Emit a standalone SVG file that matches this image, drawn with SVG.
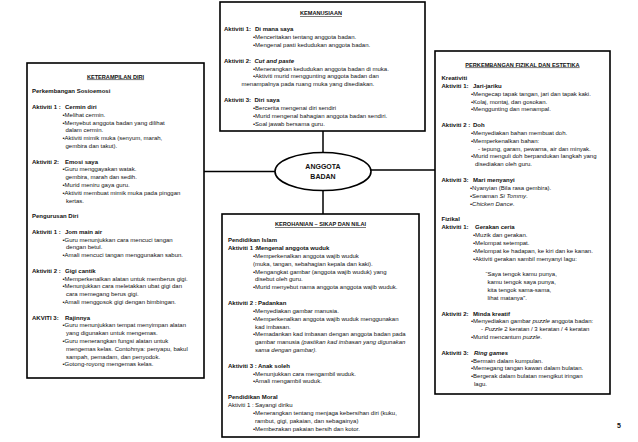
<svg xmlns="http://www.w3.org/2000/svg" width="638" height="442" viewBox="0 0 638 442">
<style>
text{font-family:"Liberation Sans",Arial,sans-serif;font-size:6px;fill:#111}
.b{font-weight:bold}
.i{font-style:italic}
.bi{font-weight:bold;font-style:italic}
.h{font-weight:bold;text-decoration:underline;text-anchor:middle;font-size:5.6px}
.box{fill:#fff;stroke:#000;stroke-width:1.6}
.conn line{stroke:#000;stroke-width:1.5}
.node{font-weight:bold;font-size:7px;text-anchor:middle}
</style>
<rect width="638" height="442" fill="#fff"/>
<g class="conn">
<line x1="323" y1="131" x2="323" y2="153"/>
<line x1="323" y1="190" x2="323" y2="214"/>
<line x1="204" y1="171.5" x2="275" y2="171.5"/>
<line x1="371" y1="170" x2="435" y2="170"/>
</g>
<g id="center">
<ellipse cx="323" cy="171.5" rx="48" ry="19" class="box"/>
<text class="node" x="323" y="169">ANGGOTA</text>
<text class="node" x="323" y="178.5">BADAN</text>
</g>
<g id="kemanusiaan">
<rect x="220" y="2" width="205" height="129" class="box"/>
<text class="h" x="321" y="15">KEMANUSIAAN</text>
<text class="b" x="224" y="31.3">Aktiviti 1:<tspan x="255">Di mana saya</tspan></text>
<text x="253" y="39.2">•Menceritakan tentang anggota badan.</text>
<text x="253" y="47">•Mengenal pasti kedudukan anggota badan.</text>
<text class="b" x="224" y="62.7">Aktiviti 2:<tspan class="bi" x="254.5">Cut and paste</tspan></text>
<text x="253" y="70.5">•Menerangkan kedudukan anggota badan di muka.</text>
<text x="253" y="78.4">•Aktiviti murid menggunting anggota badan dan</text>
<text x="241.5" y="86.2">menampalnya pada ruang muka yang disediakan.</text>
<text class="b" x="224" y="102">Aktiviti 3:<tspan x="254.5">Diri saya</tspan></text>
<text x="253" y="109.8">•Bercerita mengenai diri sendiri</text>
<text x="253" y="117.6">•Murid mengenal bahagian anggota badan sendiri.</text>
<text x="253" y="125.5">•Soal jawab bersama guru.</text>
</g>
<g id="keterampilan">
<rect x="27" y="63" width="177" height="315" class="box"/>
<text class="h" x="115.5" y="78.5">KETERAMPILAN DIRI</text>
<text class="b" x="32" y="93.4">Perkembangan Sosioemosi</text>
<text class="b" x="32" y="109">Aktiviti 1 :<tspan x="65">Cermin diri</tspan></text>
<text x="62.5" y="116.8">•Melihat cermin.</text>
<text x="62.5" y="124.6">•Menyebut anggota badan yang dilihat</text>
<text x="65.5" y="132.4">dalam cermin.</text>
<text x="62.5" y="140.2">•Aktiviti mimik muka (senyum, marah,</text>
<text x="65.5" y="148">gembira dan takut).</text>
<text class="b" x="32" y="163.6">Aktiviti 2:<tspan x="65">Emosi saya</tspan></text>
<text x="62.5" y="171.4">•Guru menggayakan watak.</text>
<text x="65.5" y="179.2">gembira, marah dan sedih.</text>
<text x="62.5" y="187">•Murid meniru gaya guru.</text>
<text x="62.5" y="194.8">•Aktiviti membuat mimik muka pada pinggan</text>
<text x="66" y="202.6">kertas.</text>
<text class="b" x="32" y="218.2">Pengurusan Diri</text>
<text class="b" x="32" y="233.8">Aktiviti 1 :<tspan x="65">Jom main air</tspan></text>
<text x="62.5" y="241.6">•Guru menunjukkan cara mencuci tangan</text>
<text x="66" y="249.4">dengan betul.</text>
<text x="62.5" y="257.2">•Amali mencuci tangan menggunakan sabun.</text>
<text class="b" x="32" y="272.8">Aktiviti 2 :<tspan x="65">Gigi cantik</tspan></text>
<text x="62.5" y="280.6">•Memperkenalkan alatan untuk memberus gigi.</text>
<text x="62.5" y="288.4">•Menunjukkan cara meletakkan ubat gigi dan</text>
<text x="66" y="296.2">cara memegang berus gigi.</text>
<text x="62.5" y="304">•Amali menggosok gigi dengan bimbingan.</text>
<text class="b" x="32" y="319.6">AKVITI 3:<tspan x="65">Rajinnya</tspan></text>
<text x="62.5" y="327.4">•Guru menunjukkan tempat menyimpan alatan</text>
<text x="66" y="335.2">yang digunakan untuk mengemas.</text>
<text x="62.5" y="343">•Guru menerangkan fungsi alatan untuk</text>
<text x="66" y="350.8">mengemas kelas. Contohnya: penyapu, bakul</text>
<text x="66" y="358.6">sampah, pemadam, dan penyodok.</text>
<text x="62.5" y="366.4">•Gotong-royong mengemas kelas.</text>
</g>
<g id="fizikal">
<rect x="435" y="51" width="175" height="343" class="box"/>
<text class="h" x="522.5" y="66.5">PERKEMBANGAN FIZIKAL DAN ESTETIKA</text>
<text class="b" x="441.5" y="80">Kreativiti</text>
<text class="b" x="441.5" y="87.8">Aktiviti 1:<tspan x="473">Jari-jariku</tspan></text>
<text x="471" y="95.6">•Mengecap tapak tangan, jari dan tapak kaki.</text>
<text x="471" y="103.5">•Kolaj, montaj, dan gosokan.</text>
<text x="471" y="111.4">•Menggunting dan menampal.</text>
<text class="b" x="441.5" y="127">Aktiviti 2 :<tspan x="473">Doh</tspan></text>
<text x="471" y="134.9">•Menyediakan bahan membuat doh.</text>
<text x="471" y="142.7">•Memperkenalkan bahan:</text>
<text x="478" y="150.6">- tepung, garam, pewarna, air dan minyak.</text>
<text x="471" y="158.4">•Murid menguli doh  berpandukan langkah yang</text>
<text x="475" y="166.3">disediakan oleh guru.</text>
<text class="b" x="441.5" y="182">Aktiviti 3:<tspan x="473">Mari menyanyi</tspan></text>
<text x="470" y="189.9">•Nyanyian (Bila rasa gembira).</text>
<text x="470" y="197.7">•Senaman <tspan class="i">Si Tommy</tspan>.</text>
<text x="470" y="205.6">•<tspan class="i">Chicken Dance</tspan>.</text>
<text class="b" x="441.5" y="221.3">Fizikal</text>
<text class="b" x="441.5" y="229.1">Aktiviti 1:<tspan x="475">Gerakan ceria</tspan></text>
<text x="473" y="237">•Muzik dan gerakan.</text>
<text x="473" y="244.8">•Melompat setempat.</text>
<text x="473" y="252.7">•Melompat ke hadapan, ke kiri  dan ke kanan.</text>
<text x="473" y="260.5">•Aktiviti gerakan sambil menyanyi lagu:</text>
<text x="485.5" y="276.2">“Saya tengok kamu punya,</text>
<text x="487.5" y="284.1">kamu tengok  saya punya,</text>
<text x="487.5" y="291.9">kita tengok sama-sama,</text>
<text x="487.5" y="299.8">lihat  matanya”.</text>
<text class="b" x="441.5" y="315.5">Aktiviti 2:<tspan x="473">Minda kreatif</tspan></text>
<text x="471" y="323.3">•Menyediakan gambar <tspan class="i">puzzle</tspan> anggota badan:</text>
<text x="481" y="331.2">- <tspan class="i">Puzzle</tspan> 2 keratan / 3 keratan / 4 keratan</text>
<text x="471" y="339">•Murid mencantum <tspan class="i">puzzle</tspan>.</text>
<text class="b" x="441.5" y="354.7">Aktiviti 3:<tspan class="bi" x="474">Ring games</tspan></text>
<text x="471" y="362.6">•Bermain dalam kumpulan.</text>
<text x="471" y="370.4">•Memegang tangan kawan dalam bulatan.</text>
<text x="471" y="378.3">•Bergerak dalam bulatan mengikut iringan</text>
<text x="474" y="386.1">lagu.</text>
</g>
<g id="kerohanian">
<rect x="222" y="214" width="197" height="223" class="box"/>
<text class="h" x="320.5" y="226.4">KEROHANIAN – SIKAP DAN NILAI</text>
<text class="b" x="228" y="242.1">Pendidikan Islam</text>
<text class="b" x="228" y="250">Aktiviti 1 :<tspan x="256">Mengenal anggota wuduk</tspan></text>
<text x="253" y="257.8">•Memperkenalkan  anggota wajib wuduk</text>
<text x="253" y="265.7">(muka, tangan, sebahagian kepala dan kaki).</text>
<text x="253" y="273.5">•Mengangkat gambar (anggota wajib wuduk) yang</text>
<text x="255" y="281.4">disebut oleh guru.</text>
<text x="253" y="289.2">•Murid menyebut nama anggota anggota wajib wuduk.</text>
<text class="b" x="228" y="304.9">Aktiviti 2 :<tspan x="258">Padankan</tspan></text>
<text x="253" y="312.8">•Menyediakan gambar manusia.</text>
<text x="253" y="320.6">•Memperkenalkan  anggota wajib wuduk menggunakan</text>
<text x="255" y="328.5">kad imbasan.</text>
<text x="253" y="336.3">•Memadankan kad imbasan dengan anggota badan pada</text>
<text x="255" y="344.2">gambar manusia <tspan class="i">(pastikan kad imbasan yang digunakan</tspan></text>
<text class="i" x="255" y="352">sama dengan gambar).</text>
<text class="b" x="228" y="367.7">Aktiviti 3 :<tspan x="258">Anak soleh</tspan></text>
<text x="253" y="375.6">•Menunjukkan cara mengambil wuduk.</text>
<text x="253" y="383.4">•Amali mengambil wuduk.</text>
<text class="b" x="228" y="399.1">Pendidikan Moral</text>
<text x="228" y="407">Aktiviti 1 :<tspan x="255">Sayangi diriku</tspan></text>
<text x="253" y="414.8">•Menerangkan tentang menjaga kebersihan diri (kuku,</text>
<text x="255" y="422.7">rambut, gigi, pakaian, dan sebagainya)</text>
<text x="253" y="430.5">•Membezakan pakaian bersih dan kotor.</text>
</g>
<text class="b" x="617" y="428" style="font-size:7px">5</text>
</svg>
